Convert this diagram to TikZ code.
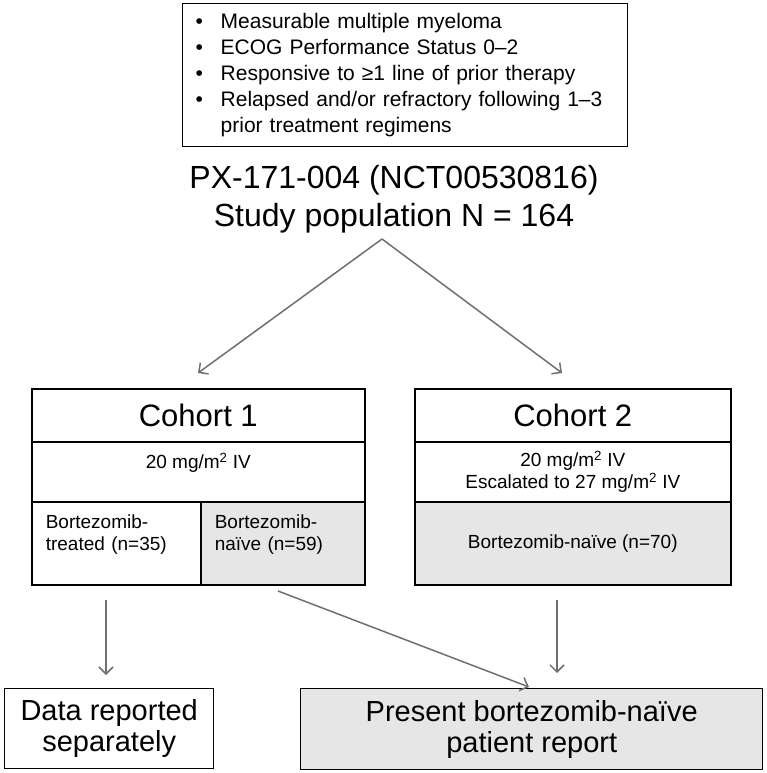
\documentclass[tikz,border=0pt]{standalone}
\usepackage{fontspec}
\setmainfont{Liberation Sans}
\usetikzlibrary{arrows.meta}
\definecolor{cellgray}{HTML}{E6E6E6}
\definecolor{arrowgray}{HTML}{6F6F6F}
\newcommand\sizecrit{\fontsize{21}{26}\selectfont}
\newcommand\sizetitle{\fontsize{32}{38}\selectfont}
\newcommand\sizehead{\fontsize{31}{36}\selectfont}
\newcommand\sizecell{\fontsize{19}{21.5}\selectfont}
\newcommand\sizeout{\fontsize{29}{31}\selectfont}

\tikzset{
  cell/.style={draw=black, line width=1.6pt, anchor=north west, inner sep=0pt, align=center},
  shaded/.style={cell, fill=cellgray},
  flow/.style={draw=arrowgray, line width=1.5pt, -{Straight Barb[length=7pt,width=14pt]}},
}

\begin{document}
\begin{tikzpicture}[x=1pt,y=-1pt]
\useasboundingbox (0,0) rectangle (766,773);

% inclusion criteria
\node[cell, line width=1.4pt, minimum width=445pt, minimum height=143pt,
  text width=419pt, inner xsep=13pt, align=left, font=\sizecrit] (crit) at (182,3)
  {\begin{tabular}{@{}p{25pt}@{}l@{}}
   \textbullet & Measurable multiple myeloma\\
   \textbullet & ECOG Performance Status 0–2\\
   \textbullet & Responsive to ≥1 line of prior therapy\\
   \textbullet & Relapsed and/or refractory following 1–3\\
               & prior treatment regimens
   \end{tabular}};

\node[align=center, font=\sizetitle] (study) at (394,199)
  {PX-171-004 (NCT00530816)\\Study population N = 164};

% cohort 1
\node[cell, minimum width=333pt, minimum height=53pt, font=\sizehead] (c1head) at (31,388) {Cohort 1};
\node[cell, minimum width=333pt, minimum height=60pt, font=\sizecell] (c1dose) at (31,441)
  {20 mg/m\textsuperscript{2} IV\\\mbox{}};
\node[cell, minimum width=169pt, minimum height=83pt, text width=141pt, inner xsep=14pt,
  align=left, font=\sizecell] (c1trt) at (31,501) {Bortezomib-\\treated (n=35)\\\mbox{}};
\node[shaded, minimum width=164pt, minimum height=83pt, text width=136pt, inner xsep=14pt,
  align=left, font=\sizecell] (c1nai) at (200,501) {Bortezomib-\\naïve (n=59)\\\mbox{}};

% cohort 2
\node[cell, minimum width=316pt, minimum height=53pt, font=\sizehead] (c2head) at (414,388) {Cohort 2};
\node[cell, minimum width=316pt, minimum height=60pt, font=\sizecell] (c2dose) at (414,441)
  {20 mg/m\textsuperscript{2} IV\\Escalated to 27 mg/m\textsuperscript{2} IV};
\node[shaded, minimum width=316pt, minimum height=83pt, font=\sizecell] (c2nai) at (414,501)
  {Bortezomib-naïve (n=70)};

% outcomes
\node[cell, line width=1.4pt, minimum width=209pt, minimum height=80pt, font=\sizeout] (sep) at (4,688)
  {Data reported\\separately};
\node[shaded, line width=1.4pt, minimum width=462pt, minimum height=81pt, font=\sizeout] (report) at (300,688)
  {Present bortezomib-naïve\\patient report};

\coordinate (apex) at (382,239);
\coordinate (toc1) at (198,373);
\coordinate (toc2) at (562,373);
\coordinate (fromtrt) at (106,600);
\coordinate (tosep) at (106,675);
\coordinate (fromnai) at (278,591);
\coordinate (torep) at (529,687);
\coordinate (fromc2) at (557,600);
\coordinate (torep2) at (557,673);

\draw[flow] (apex) -- (toc1);
\draw[flow] (apex) -- (toc2);
\draw[flow] (fromtrt) -- (tosep);
\draw[flow] (fromnai) -- (torep);
\draw[flow] (fromc2) -- (torep2);
\end{tikzpicture}
\end{document}
